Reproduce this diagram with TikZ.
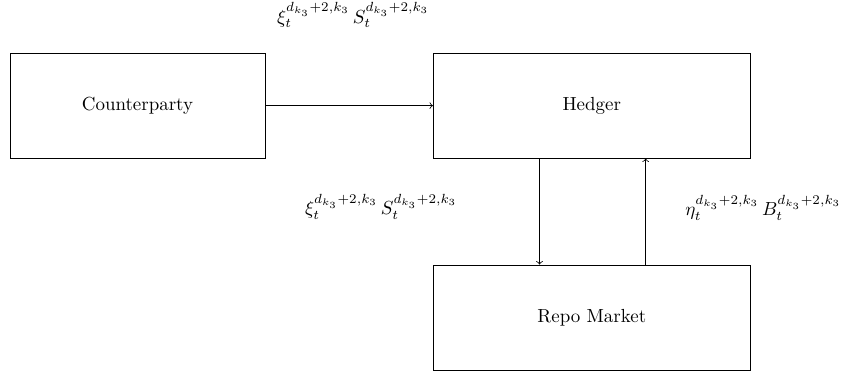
\documentclass[tikz,border=0pt]{standalone}
\usetikzlibrary{positioning}
\tikzset{ente/.style={draw, rectangle, minimum height=1.95cm}}
\begin{document}
\begin{tikzpicture}
    \useasboundingbox (0,0) rectangle (15.66,-7.016);
    %counterparty and hedger
    \node[ente, minimum width=4.73cm] (cpty) at (2.55,-1.96) {Counterparty};
    \node[ente, minimum width=5.88cm] (hedger) at (10.98,-1.96) {Hedger};
    %repo market
    \node[ente, minimum width=5.88cm] (repo) at (10.98,-5.89) {Repo Market};
    %flows
    \draw[->] (cpty) -- (hedger);
    \draw[->] ([xshift=-0.97cm]hedger.south) -- ([xshift=-0.97cm]repo.north);
    \draw[->] ([xshift=1cm]repo.north) -- ([xshift=1cm]hedger.south);
    %labels
    \node (lbltop) at (6.55,-0.28) {$\xi_t^{d_{k_3}+2,k_3}\,S_t^{d_{k_3}+2,k_3}$};
    \node (lblleft) at (7.07,-3.84) {$\xi_t^{d_{k_3}+2,k_3}\,S_t^{d_{k_3}+2,k_3}$};
    \node (lblright) at (14.16,-3.86) {$\eta_t^{d_{k_3}+2,k_3}\,B_t^{d_{k_3}+2,k_3}$};
\end{tikzpicture}
\end{document}
